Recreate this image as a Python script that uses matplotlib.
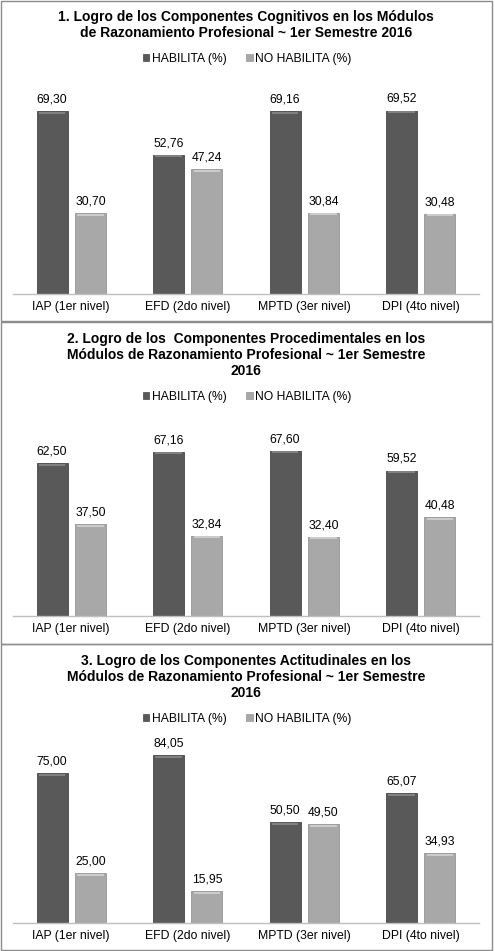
import matplotlib
matplotlib.use("Agg")
import matplotlib.pyplot as plt
from matplotlib.patches import Rectangle

# data
categories = ["IAP (1er nivel)", "EFD (2do nivel)", "MPTD (3er nivel)", "DPI (4to nivel)"]
series_names = ["HABILITA (%)", "NO HABILITA (%)"]

titles = [
    "1. Logro de los Componentes Cognitivos en los Módulos\nde Razonamiento Profesional ~ 1er Semestre 2016",
    "2. Logro de los  Componentes Procedimentales en los\nMódulos de Razonamiento Profesional ~ 1er Semestre\n2016",
    "3. Logro de los Componentes Actitudinales en los\nMódulos de Razonamiento Profesional ~ 1er Semestre\n2016",
]

cognitivos_hab = [69.30, 52.76, 69.16, 69.52]
cognitivos_no = [30.70, 47.24, 30.84, 30.48]
procedim_hab = [62.50, 67.16, 67.60, 59.52]
procedim_no = [37.50, 32.84, 32.40, 40.48]
actitud_hab = [75.00, 84.05, 50.50, 65.07]
actitud_no = [25.00, 15.95, 49.50, 34.93]

panel_values = [
    (cognitivos_hab, cognitivos_no),
    (procedim_hab, procedim_no),
    (actitud_hab, actitud_no),
]

plt.rcParams["font.family"] = ["Liberation Sans", "DejaVu Sans"]

W, H = 495, 951
fig = plt.figure(figsize=(W / 100, H / 100), dpi=100)
fig.patch.set_facecolor("white")

def fx(x):
    return x / W

def fy(y):
    return 1 - y / H

# per panel layout in pixels: (top, bottom, title_y, legend_y, baseline, axes_top, ymax)
layout = [
    (1, 321, 25, 59, 294, 85, 79.2),
    (322, 644, 355, 397, 616, 420, 80.2),
    (644, 950, 677, 719, 923, 735, 94.3),
]

DARK = "#595959"
LIGHT = "#a8a8a8"

for (top, bottom, ty, ly, base, atop, ymax), title, (hab, noh) in zip(layout, titles, panel_values):
    # panel frame
    fig.patches.append(Rectangle((fx(1), fy(bottom)), fx(491), (bottom - top) / H,
                                 transform=fig.transFigure, fill=False,
                                 edgecolor="#8c8c8c", linewidth=1.0))

    fig.text(fx(246), fy(ty), title, ha="center", va="center", fontsize=10,
             fontweight="bold", linespacing=1.2, color="#000000")

    ax = fig.add_axes([fx(13), fy(base), fx(466), (base - atop) / H])
    ax.set_xlim(-0.5, 3.5)
    ax.set_ylim(0, ymax)

    xs = range(len(categories))
    off, bw = 0.165, 0.266
    b1 = ax.bar([x - off for x in xs], hab, width=bw, color=DARK,
                edgecolor="#474747", linewidth=0.6, label=series_names[0])
    b2 = ax.bar([x + off for x in xs], noh, width=bw, color=LIGHT,
                edgecolor="#959595", linewidth=0.6, label=series_names[1])

    # light rim on top of each bar (bevel look)
    for bars, rim in ((b1, "#8a8a8a"), (b2, "#d4d4d4")):
        for rect in bars:
            ax.plot([rect.get_x() + 0.02, rect.get_x() + rect.get_width() - 0.02],
                    [rect.get_height() - ymax * 0.008] * 2, color=rim, lw=1.2,
                    solid_capstyle="butt")

    for bars, vals in ((b1, hab), (b2, noh)):
        for rect, v in zip(bars, vals):
            ax.annotate(f"{v:.2f}".replace(".", ","),
                        (rect.get_x() + rect.get_width() / 2, v),
                        xytext=(0, 4), textcoords="offset points",
                        ha="center", va="bottom", fontsize=8.7, color="#000000")

    for s in ("top", "right", "left"):
        ax.spines[s].set_visible(False)
    ax.spines["bottom"].set_color("#bfbfbf")
    ax.spines["bottom"].set_linewidth(1.0)
    ax.set_yticks([])
    ax.set_xticks(list(xs))
    ax.set_xticklabels(categories, fontsize=8.8)
    ax.tick_params(axis="x", length=0, pad=5)

    handles = [Rectangle((0, 0), 1, 1, facecolor=DARK, edgecolor="#474747", linewidth=0.5),
               Rectangle((0, 0), 1, 1, facecolor=LIGHT, edgecolor="#959595", linewidth=0.5)]
    fig.legend(handles, series_names, loc="center", bbox_to_anchor=(fx(247), fy(ly)),
               ncol=2, frameon=False, fontsize=8.7, handlelength=0.55, handleheight=0.55,
               handletextpad=0.2, columnspacing=1.6, borderaxespad=0)

fig.savefig("out.png", dpi=100, facecolor="white")
